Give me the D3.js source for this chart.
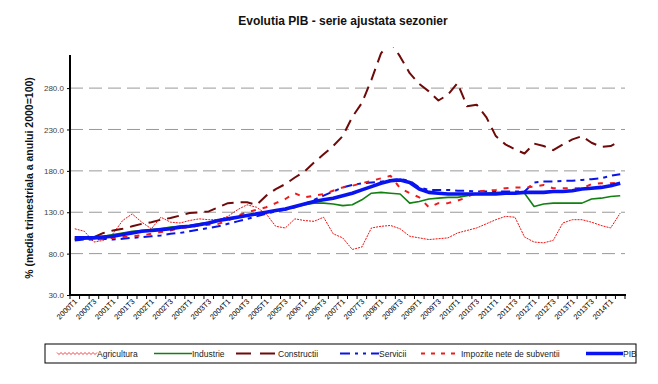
<!DOCTYPE html>
<html>
<head>
<meta charset="utf-8">
<script src="https://cdn.jsdelivr.net/npm/d3@7"></script>
<style>
  body { margin: 0; background: #fff; }
  svg { font-family: "Liberation Sans", Arial, sans-serif; }
</style>
</head>
<body>
<div id="container"></div>
<script>
// quarterly categories
var quarters = [
  "2000T1","2000T2","2000T3","2000T4","2001T1","2001T2","2001T3","2001T4",
  "2002T1","2002T2","2002T3","2002T4","2003T1","2003T2","2003T3","2003T4",
  "2004T1","2004T2","2004T3","2004T4","2005T1","2005T2","2005T3","2005T4",
  "2006T1","2006T2","2006T3","2006T4","2007T1","2007T2","2007T3","2007T4",
  "2008T1","2008T2","2008T3","2008T4","2009T1","2009T2","2009T3","2009T4",
  "2010T1","2010T2","2010T3","2010T4","2011T1","2011T2","2011T3","2011T4",
  "2012T1","2012T2","2012T3","2012T4","2013T1","2013T2","2013T3","2013T4",
  "2014T1","2014T2"
];

var agricultura = [110,107,94,96,104,120,128,118,110,124,118,117,120,122,121,121,
  125,133,139,136,128,113,111,122,120,119,124,104,99,85,88,111,113,114,110,101,
  99,97,98,99,105,108,111,116,121,125,124,100,94,93,96,117,121,121,118,114,111,129];

var industrie = [98,99,100,101,103,105,107,108,109,110,112,113,114,116,118,120,
  122,124,126,128,130,132,134,136,139,141,141,140,138,139,145,153,154,153,152,141,
  143,146,147,148,148,150,152,153,154,154,153,153,137,140,141,141,141,141,146,147,149,150];

var constructii = [97,98,100,105,108,110,113,116,118,121,123,126,129,130,131,136,
  141,142,142,139,150,158,164,172,179,190,200,210,222,245,262,290,322,336,318,298,
  285,276,265,272,286,258,260,245,222,212,206,201,213,210,205,212,218,222,214,209,210,216];

var servicii = [96,97,97,98,97,98,99,100,101,102,104,105,107,109,111,113,
  116,119,122,125,128,131,133,136,140,145,150,155,160,163,165,166,167,169,170,168,
  160,157,157,157,156,156,155,155,155,155,155,155,166,167,167,168,168,169,170,171,174,176];

var impozite = [100,99,97,98,99,100,101,102,104,106,108,111,112,114,115,116,
  120,126,130,133,136,141,146,153,148,150,152,156,160,162,165,168,171,174,159,153,
  148,136,141,141,144,148,155,156,157,159,160,160,161,163,159,159,159,159,164,165,165,166];

var pib = [99,99,99,100,101,103,105,107,108,109,110,112,113,115,117,120,
  122,124,126,128,130,132,134,137,140,143,145,147,150,153,157,161,165,168,169,166,
  158,154,153,152,152,152,152,152,152,153,153,154,154,154,155,155,156,158,159,160,162,165];

var yTicks = [30, 80, 130, 180, 230, 280];

var series = [
  { name: "Agricultura", values: agricultura, color: "#f01010", width: 1, dash: "2,1" },
  { name: "Industrie", values: industrie, color: "#118011", width: 1.6, dash: null },
  { name: "Constructii", values: constructii, color: "#6e0a0a", width: 2, dash: "12,7" },
  { name: "Servicii", values: servicii, color: "#0a14e6", width: 2, dash: "9,5,4,5" },
  { name: "Impozite nete de subventii", values: impozite, color: "#ee1c1c", width: 2, dash: "5,7" },
  { name: "PIB", values: pib, color: "#0a14f0", width: 3.6, dash: null }
];

var width = 658, height = 384;
var plot = { left: 70, right: 625, top: 55, bottom: 295 };

var svg = d3.select("#container").append("svg")
  .attr("width", width)
  .attr("height", height);

var x = d3.scaleBand().domain(quarters).range([plot.left, plot.right]);
var y = d3.scaleLinear().domain([30, 320]).range([plot.bottom, plot.top]);
var cx = function (q) { return x(q) + x.bandwidth() / 2; };

// title
svg.append("text")
  .attr("x", 343).attr("y", 25)
  .attr("text-anchor", "middle")
  .style("font-size", "12px").style("font-weight", "bold").style("fill", "#111")
  .text("Evolutia PIB - serie ajustata sezonier");

// y label
svg.append("text")
  .attr("transform", "translate(33," + ((plot.top + plot.bottom) / 2 + 3) + ")rotate(-90)")
  .attr("text-anchor", "middle")
  .style("font-size", "10.5px").style("font-weight", "bold").style("fill", "#111")
  .text("% (media trimestriala a anului 2000=100)");

// gridlines
svg.append("g").selectAll("line")
  .data(yTicks.slice(1))
  .enter().append("line")
  .attr("x1", plot.left).attr("x2", plot.right)
  .attr("y1", function (d) { return y(d); })
  .attr("y2", function (d) { return y(d); })
  .attr("stroke", "#999")
  .attr("stroke-dasharray", "13,6");

// series
svg.append("defs").append("clipPath").attr("id", "clip")
  .append("rect")
  .attr("x", plot.left).attr("y", plot.top - 8)
  .attr("width", plot.right - plot.left).attr("height", plot.bottom - plot.top + 8);

var line = function (vals) {
  return d3.line()
    .x(function (d, i) { return cx(quarters[i]); })
    .y(function (d) { return y(d); })(vals);
};

svg.append("g").attr("clip-path", "url(#clip)")
  .selectAll("path")
  .data(series)
  .enter().append("path")
  .attr("d", function (s) { return line(s.values); })
  .attr("fill", "none")
  .attr("stroke", function (s) { return s.color; })
  .attr("stroke-width", function (s) { return s.width; })
  .attr("stroke-dasharray", function (s) { return s.dash; })
  .attr("stroke-linejoin", "round");

// y axis
var yAxis = svg.append("g")
  .attr("transform", "translate(" + plot.left + ",0)")
  .call(d3.axisLeft(y).tickValues(yTicks).tickFormat(d3.format(".1f")).tickSize(3).tickSizeOuter(0));
yAxis.select(".domain").attr("stroke", "#000").attr("stroke-width", 2)
  .attr("d", "M0," + plot.top + "V" + plot.bottom);
yAxis.selectAll("text").style("font-size", "8px").style("fill", "#444").attr("x", -6);
yAxis.selectAll(".tick line").attr("stroke", "#000");

// x axis
var xAxis = svg.append("g")
  .attr("transform", "translate(0," + plot.bottom + ")");
xAxis.append("line")
  .attr("x1", plot.left).attr("x2", plot.right + 1)
  .attr("stroke", "#000").attr("stroke-width", 2);
xAxis.selectAll("line.tk")
  .data(quarters.concat(["end"]))
  .enter().append("line")
  .attr("class", "tk")
  .attr("x1", function (q) { return q === "end" ? plot.right : x(q); })
  .attr("x2", function (q) { return q === "end" ? plot.right : x(q); })
  .attr("y1", 0).attr("y2", 4)
  .attr("stroke", "#000");
xAxis.selectAll("text")
  .data(quarters.filter(function (q, i) { return i % 2 === 0; }))
  .enter().append("text")
  .attr("transform", function (q) { return "translate(" + (cx(q) + 3) + ",7)rotate(-45)"; })
  .attr("text-anchor", "end")
  .style("font-size", "7.5px").style("fill", "#000")
  .text(function (q) { return q; });

// legend
var lg = svg.append("g");
lg.append("rect")
  .attr("x", 45).attr("y", 344).attr("width", 591).attr("height", 19)
  .attr("fill", "#fff").attr("stroke", "#000");

var legendPos = [
  { x1: 57, x2: 97 }, { x1: 154, x2: 192 }, { x1: 236, x2: 278 },
  { x1: 340, x2: 379 }, { x1: 421, x2: 461 }, { x1: 586, x2: 623 }
];

series.forEach(function (s, i) {
  var p = legendPos[i];
  if (s.name === "Agricultura") {
    var pts = d3.range(p.x1, p.x2 + 0.1, 2).map(function (px, k) { return [px, 353.5 + (k % 2 ? 1 : -1)]; });
    lg.append("path").attr("d", d3.line()(pts))
      .attr("fill", "none").attr("stroke", s.color).attr("stroke-width", 0.8);
  } else {
    lg.append("line")
      .attr("x1", p.x1).attr("x2", p.x2).attr("y1", 353.5).attr("y2", 353.5)
      .attr("stroke", s.color)
      .attr("stroke-width", s.name === "PIB" ? 3.6 : (s.width))
      .attr("stroke-dasharray", s.name === "Constructii" ? "15,9" : s.name === "Servicii" ? "10,5,3,5,3,5" : s.name === "Impozite nete de subventii" ? "4,6" : null);
  }
  lg.append("text")
    .attr("x", p.x2).attr("y", 357)
    .style("font-size", "8.5px").style("fill", "#222")
    .text(s.name);
});
</script>
</body>
</html>
